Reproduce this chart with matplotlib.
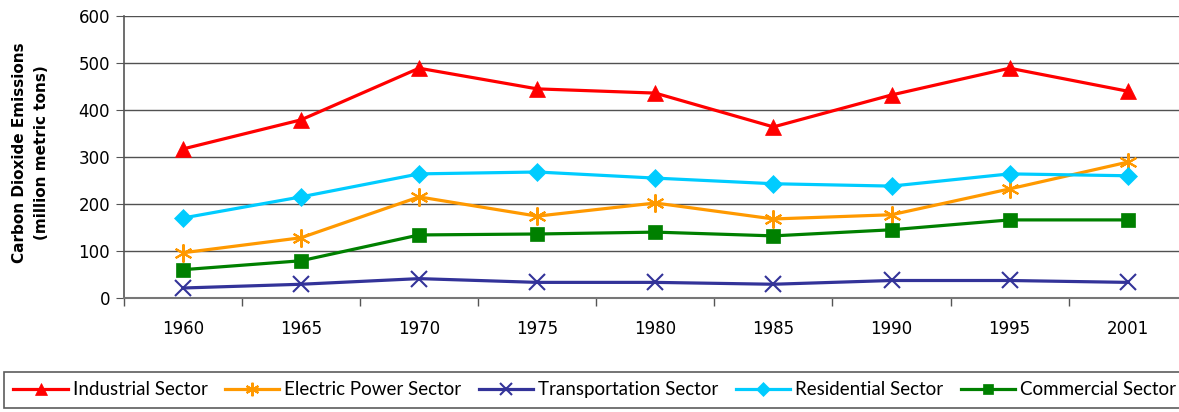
import matplotlib
matplotlib.use("Agg")
import matplotlib.pyplot as plt
import numpy as np

years = ["1960", "1965", "1970", "1975", "1980", "1985", "1990", "1995", "2001"]
industrial = [317, 379, 489, 445, 436, 364, 432, 489, 440]
electric = [96, 128, 215, 174, 202, 168, 177, 232, 289]
transportation = [21, 29, 41, 33, 33, 29, 37, 37, 33]
residential = [170, 215, 264, 268, 255, 243, 238, 264, 260]
commercial = [60, 79, 134, 136, 140, 132, 145, 166, 166]
yticks = [0, 100, 200, 300, 400, 500, 600]

plt.rcParams['font.family'] = ['DejaVu Sans']

fig = plt.figure(figsize=(11.79, 4.12), dpi=100)
ax = fig.add_axes([0.105, 0.277, 0.9016, 0.684])

x = np.arange(len(years))
series = [
    ("Industrial Sector", industrial, "#FF0000", "^", 11),
    ("Electric Power Sector", electric, "#FF9900", (6, 2, 0), 13),
    ("Transportation Sector", transportation, "#333399", "x", 11),
    ("Residential Sector", residential, "#00CCFF", "D", 9),
    ("Commercial Sector", commercial, "#008000", "s", 10),
]
for name, vals, col, mk, ms in series:
    ax.plot(x, vals, color=col, lw=2.3, marker=mk, markersize=ms,
            markeredgewidth=1.5 if mk == "x" or isinstance(mk, tuple) else 0.5,
            markeredgecolor=col, markerfacecolor=col, label=name, zorder=3,
            clip_on=False)

ax.set_xlim(-0.5, len(years) - 0.5)
ax.set_ylim(0, 600)
ax.set_yticks(yticks)
ax.set_xticks(x)
ax.set_xticklabels(years)
ax.set_xticks(np.arange(-0.5, len(years) + 0.5, 1), minor=True)
ax.tick_params(axis='x', which='major', length=0, labelsize=12, pad=16)
ax.tick_params(axis='x', which='minor', length=6, color='#555555', width=1)
ax.tick_params(axis='y', length=6, color='#555555', labelsize=12, pad=4)
ax.grid(axis='y', color='#333333', lw=1, alpha=0.85)
ax.set_axisbelow(True)
for s in ['top', 'right']:
    ax.spines[s].set_visible(False)
ax.spines['left'].set_color('#555555')
ax.spines['bottom'].set_color('#777777')
ax.spines['left'].set_linewidth(1.2)
ax.spines['bottom'].set_linewidth(1.5)

fig.text(0.026, 0.63, "Carbon Dioxide Emissions\n(million metric tons)", rotation=90,
         ha='center', va='center', fontsize=11, fontweight='bold', linespacing=1.6)

leg = fig.legend(loc='upper left', bbox_to_anchor=(4 / 1179, 1 - 372 / 412), ncol=5,
                 frameon=True, fancybox=False, edgecolor='#333333', handlelength=2.9,
                 handletextpad=0.27, columnspacing=0.92, borderpad=0.5, borderaxespad=0,
                 markerscale=0.75, prop={'family': 'Lato', 'size': 13.5})
leg.get_frame().set_linewidth(1.2)

fig.savefig("out.png", dpi=100)
